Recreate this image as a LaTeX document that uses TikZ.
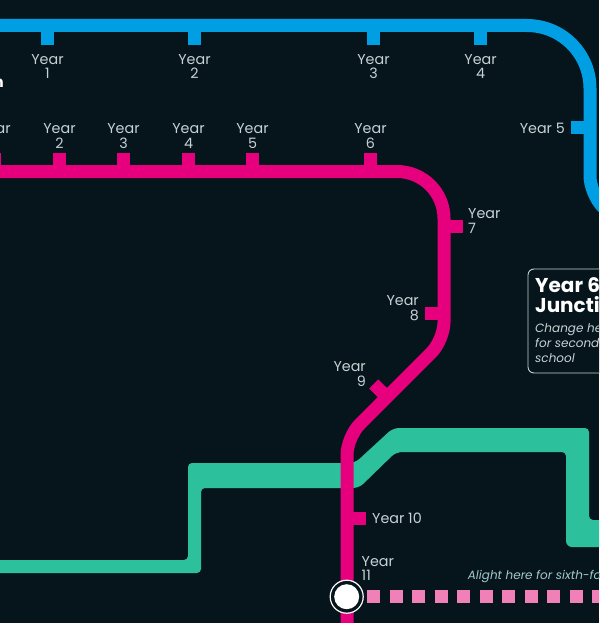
\documentclass[tikz,border=0pt]{standalone}
\usepackage{fontspec}
\setmainfont{Poppins}
\usetikzlibrary{positioning}
\definecolor{mapbg}{HTML}{06151C}
\definecolor{lineblue}{HTML}{009FE3}
\definecolor{linepink}{HTML}{E6007E}
\definecolor{linegreen}{HTML}{2CC09C}
\definecolor{dotpink}{HTML}{F080B8}
\definecolor{yeartext}{HTML}{C6D2D3}
\definecolor{alighttext}{HTML}{A4C8CC}
\begin{document}
\begin{tikzpicture}[
        x=1pt, y=-1pt,
        node distance=9pt,
        every node/.style={inner sep=0pt},
        % Labels of the stops
        yearlabel/.style={font=\fontsize{14.3}{14.8}\selectfont, text=yeartext, align=center},
        % Lines and their short stubs
        blueline/.style={draw=lineblue, line width=13pt},
        pinkline/.style={draw=linepink, line width=13pt},
        bluetick/.style={draw=lineblue, line width=13pt},
        pinktick/.style={draw=linepink, line width=13pt},
        dotline/.style={draw=dotpink, line width=13pt, dash pattern=on 13.4pt off 9.1pt},
        infobox/.style={draw=yeartext, line width=0.9pt, rounded corners=6pt, fill=mapbg}
    ]
    \clip (0,0) rectangle (599,623);
    \fill[mapbg] (0,0) rectangle (599,623);

    % --- GREEN LINE (behind the pink one) ---
    \fill[linegreen, rounded corners=4pt] (-10,560) -- (188,560) -- (188,463) -- (345,463)
        [rounded corners=6pt] -- (355,463) -- (393,428)
        [rounded corners=4pt] -- (589,428) -- (589,520) -- (610,520) -- (610,547)
        [rounded corners=6pt] -- (566,547)
        [rounded corners=4pt] -- (566,452)
        [rounded corners=6pt] -- (396,452) -- (359,488)
        [rounded corners=4pt] -- (201,488) -- (201,573) -- (-10,573) -- cycle;

    % --- BLUE LINE ---
    \coordinate (b1) at (47.5,45);
    \coordinate (b2) at (194.5,45);
    \coordinate (b3) at (373.5,45);
    \coordinate (b4) at (480.5,45);
    \coordinate (b5) at (571,127);
    \draw[blueline, rounded corners=63pt] (-10,25.5) -- (590,25.5)
        [rounded corners=18pt] -- (590,194) -- (640,244);
    \draw[bluetick] (b1) -- (b1 |- 0,25.5);
    \draw[bluetick] (b2) -- (b2 |- 0,25.5);
    \draw[bluetick] (b3) -- (b3 |- 0,25.5);
    \draw[bluetick] (b4) -- (b4 |- 0,25.5);
    \draw[bluetick] (b5) -- (590,127);
    \node[yearlabel, below=of b1] (lblb1) {Year\\1};
    \node[yearlabel, below=of b2] (lblb2) {Year\\2};
    \node[yearlabel, below=of b3] (lblb3) {Year\\3};
    \node[yearlabel, below=of b4] (lblb4) {Year\\4};
    \node[yearlabel, left=6pt of b5, yshift=-1pt] (lblb5) {Year 5};

    % --- PINK LINE ---
    \coordinate (p1) at (-5.5,152.5);
    \coordinate (p2) at (59.5,152.5);
    \coordinate (p3) at (123.5,152.5);
    \coordinate (p4) at (188.5,152.5);
    \coordinate (p5) at (252.5,152.5);
    \coordinate (p6) at (370.5,152.5);
    \coordinate (p7) at (463,226.5);
    \coordinate (p8) at (425,313.5);
    \coordinate (p9) at (373.7,384);
    \coordinate (p10) at (366,518.5);
    \draw[pinkline, rounded corners=47pt] (-10,171.5) -- (444,171.5)
        [rounded corners=18pt] -- (444,340) -- (347,437) -- (347,640);
    \draw[pinktick] (p1) -- (p1 |- 0,171.5);
    \draw[pinktick] (p2) -- (p2 |- 0,171.5);
    \draw[pinktick] (p3) -- (p3 |- 0,171.5);
    \draw[pinktick] (p4) -- (p4 |- 0,171.5);
    \draw[pinktick] (p5) -- (p5 |- 0,171.5);
    \draw[pinktick] (p6) -- (p6 |- 0,171.5);
    \draw[pinktick] (p7) -- (444,226.5);
    \draw[pinktick] (p8) -- (444,313.5);
    \draw[pinktick] (p9) -- (386.9,397);
    \draw[pinktick] (p10) -- (347,518.5);
    \node[yearlabel, above=4pt of p1] (lblp1) {Year\\1};
    \node[yearlabel, above=4pt of p2] (lblp2) {Year\\2};
    \node[yearlabel, above=4pt of p3] (lblp3) {Year\\3};
    \node[yearlabel, above=4pt of p4] (lblp4) {Year\\4};
    \node[yearlabel, above=4pt of p5] (lblp5) {Year\\5};
    \node[yearlabel, above=4pt of p6] (lblp6) {Year\\6};
    \node[yearlabel, align=left, anchor=south west] (lblp7) at (468,233.5) {Year\\7};
    \node[yearlabel, align=right, anchor=south east] (lblp8) at (419,321) {Year\\8};
    \node[yearlabel, align=right, anchor=south east] (lblp9) at (366,387) {Year\\9};
    \node[yearlabel, right=6pt of p10] (lblp10) {Year 10};
    \node[yearlabel, align=left, anchor=south west] (lblp11) at (361.5,581) {Year\\11};

    % --- STATION AND SIXTH-FORM BRANCH ---
    \node[circle, draw=white, line width=1.2pt, fill=mapbg, minimum size=33pt] (stopring) at (346.7,596.7) {};
    \node[circle, fill=white, minimum size=25pt] (stop) at (stopring.center) {};
    \coordinate (dotend) at (620,596.7);
    \draw[dotline] ([xshift=20.3pt]stopring.center) -- (dotend);
    \node[font=\fontsize{12}{14}\itshape\selectfont, text=alighttext, anchor=west] (alight) at (467.7,576.5) {Alight here for sixth-form};

    % --- JUNCTION BOX ---
    \draw[infobox] (528,269) rectangle (640,373);
    \node[font=\fontsize{20}{20.5}\bfseries\selectfont, text=white, align=left, anchor=north west] (jname) at (535,277) {Year 6\\Junction};
    \node[font=\fontsize{12}{15}\itshape\selectfont, text=yeartext, align=left, below=10pt of jname.south west, anchor=north west] (jnote) {Change here\\for secondary\\school};

    % Clipped heading at the left edge
    \node[font=\fontsize{15}{15}\bfseries\selectfont, text=white, anchor=east] (edgetext) at (4,82) {Junction};
\end{tikzpicture}
\end{document}
